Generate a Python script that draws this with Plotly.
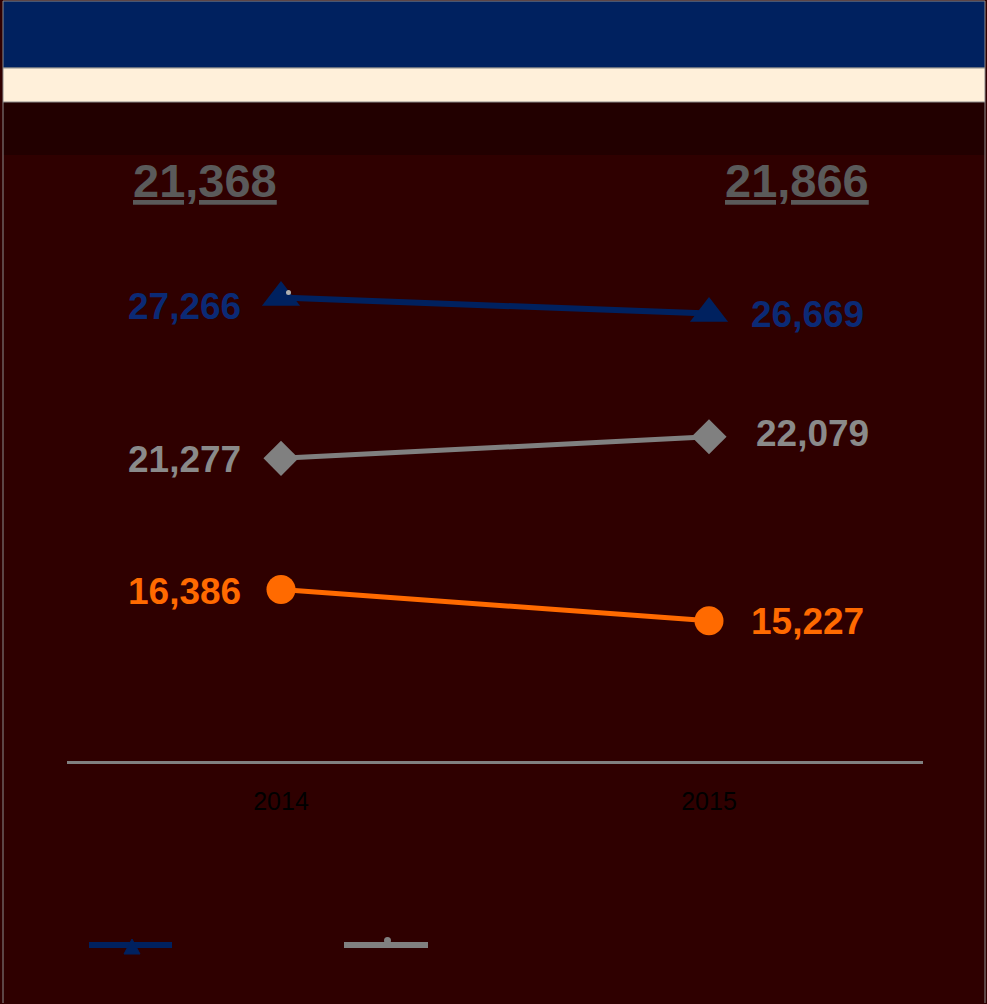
import plotly.graph_objects as go

years = ["2014", "2015"]
series_names = ["Series A", "Series B", "Series C"]
navy_vals = [27266, 26669]
gray_vals = [21277, 22079]
orange_vals = [16386, 15227]
totals = [21368, 21866]

W, H = 987, 1004
NAVY = "#00215f"
GRAY = "#808080"
ORANGE = "#ff6a00"
BG = "#2f0000"

def py(px):
    return 1 - px / H

def pxx(px):
    return px / W

fig = go.Figure()

specs = [
    (series_names[0], navy_vals, NAVY, "triangle-up", 33, "#0b2a75", 6, (-9, -1), 40),
    (series_names[1], gray_vals, GRAY, "diamond", 27, "#8a8a8a", 5, (-1, 3), 45),
    (series_names[2], orange_vals, ORANGE, "circle", 29, ORANGE, 5, (-2, -1), 40),
]
for name, vals, col, sym, sz, tcol, lw, ysh, rx in specs:
    fig.add_trace(go.Scatter(
        x=years, y=vals, name=name, mode="lines+markers",
        line=dict(color=col, width=lw),
        marker=dict(symbol=sym, size=sz, color=col),
        showlegend=False,
    ))
    fig.add_annotation(x=0, y=vals[0], text=f"{vals[0]:,}", showarrow=False,
                       xanchor="right", xshift=-38, yshift=ysh[0],
                       font=dict(family="Liberation Sans, Arial", size=37, color=tcol, weight="bold"))
    fig.add_annotation(x=1, y=vals[1], text=f"{vals[1]:,}", showarrow=False,
                       xanchor="left", xshift=rx, yshift=ysh[1],
                       font=dict(family="Liberation Sans, Arial", size=37, color=tcol, weight="bold"))

# totals at top
for xp, t in zip([205, 797], totals):
    fig.add_annotation(xref="paper", yref="paper", x=pxx(xp), y=py(180), text=f"<u>{t:,}</u>",
                       showarrow=False, xanchor="center", yanchor="middle",
                       font=dict(family="Liberation Sans, Arial", size=47, color="#5a5a5a", weight="bold"))

shapes = [
    dict(type="rect", xref="paper", yref="paper", x0=pxx(3), x1=pxx(985), y0=py(102), y1=py(155),
         fillcolor="#220000", line=dict(width=0), layer="below"),
    dict(type="rect", xref="paper", yref="paper", x0=pxx(3), x1=pxx(985), y0=py(1), y1=py(68),
         fillcolor="#00215f", line=dict(color="#8c8c8c", width=1)),
    dict(type="rect", xref="paper", yref="paper", x0=pxx(3), x1=pxx(985), y0=py(68), y1=py(102),
         fillcolor="#fff0da", line=dict(color="#8c8c8c", width=1)),
    dict(type="line", xref="paper", yref="paper", x0=pxx(3), x1=pxx(3), y0=py(102), y1=py(1003),
         line=dict(color="#8c8c8c", width=1)),
    dict(type="line", xref="paper", yref="paper", x0=pxx(985), x1=pxx(985), y0=py(102), y1=py(1003),
         line=dict(color="#8c8c8c", width=1)),
    # legend swatches
    dict(type="line", xref="paper", yref="paper", x0=pxx(89), x1=pxx(172), y0=py(945), y1=py(945),
         line=dict(color=NAVY, width=6)),
    dict(type="path", xref="paper", yref="paper",
         path=f"M {pxx(124)},{py(954)} L {pxx(132)},{py(939)} L {pxx(140)},{py(954)} Z",
         fillcolor=NAVY, line=dict(color=NAVY, width=1)),
    dict(type="line", xref="paper", yref="paper", x0=pxx(344), x1=pxx(428), y0=py(945), y1=py(945),
         line=dict(color=GRAY, width=6)),
    dict(type="circle", xref="paper", yref="paper", x0=pxx(384), x1=pxx(391), y0=py(944), y1=py(937),
         fillcolor=GRAY, line=dict(width=0)),
    # small gray dot on first navy marker
    dict(type="circle", xref="paper", yref="paper", x0=pxx(286), x1=pxx(291), y0=py(295), y1=py(290),
         fillcolor="#b0b0b0", line=dict(width=0)),
]

fig.update_layout(
    width=W, height=H,
    margin=dict(l=0, r=0, t=0, b=0),
    paper_bgcolor=BG, plot_bgcolor="rgba(0,0,0,0)",
    shapes=shapes,
    xaxis=dict(domain=[pxx(67), pxx(923)], type="category", range=[-0.5, 1.5],
               showgrid=False, zeroline=False, showline=True, linecolor=GRAY, linewidth=3,
               ticks="", ticklabelstandoff=16,
               tickfont=dict(family="Liberation Sans, Arial", size=25, color="#000000")),
    yaxis=dict(domain=[py(761), py(90)], range=[10000, 35000], visible=False),
)

fig.write_html("out.html", config={"displayModeBar": False},
               post_script="document.body.style.margin='0';document.body.style.overflow='hidden';")
